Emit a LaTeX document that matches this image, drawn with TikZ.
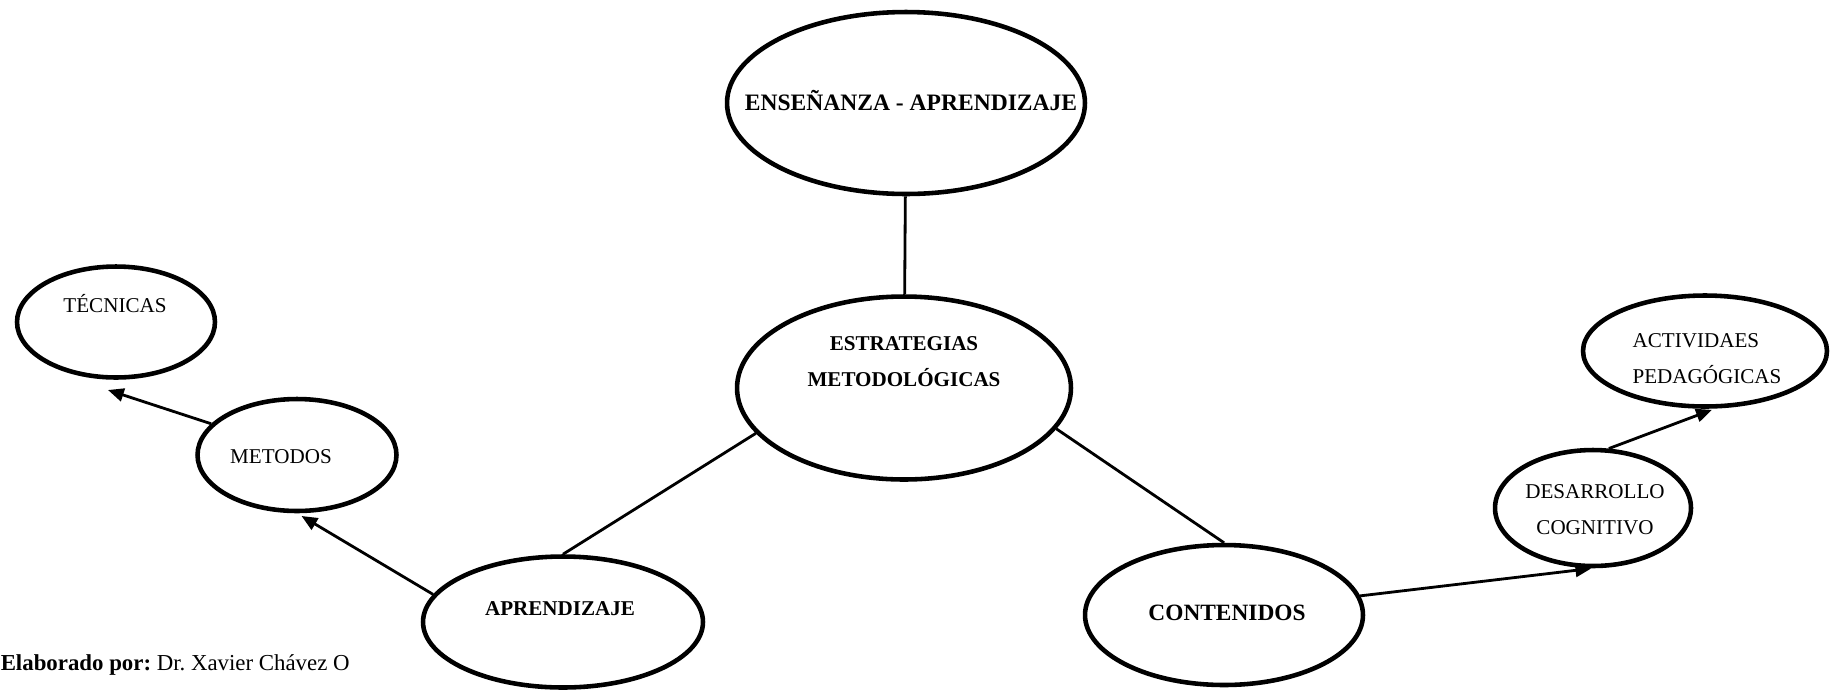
\documentclass[tikz,border=0pt]{standalone}
\usepackage{fontspec}
\setmainfont{Liberation Serif}
\usetikzlibrary{shapes.geometric,arrows.meta}
\frenchspacing

\begin{document}
\begin{tikzpicture}[x=0.02cm, y=-0.02cm,
    bubble/.style={draw, ellipse, line width=2.6pt, inner sep=0pt},
    link/.style={line width=1.6pt},
    arrow/.style={link, -{Triangle[length=9pt,width=7.5pt]}},
    txt/.style={font=\fontsize{12}{20.5}\selectfont, align=center, inner sep=0pt},
    btxt/.style={txt, font=\fontsize{12}{20.5}\selectfont\bfseries}]
    \useasboundingbox (0,0) rectangle (1836,691);

    \node[bubble, minimum width=7.16cm, minimum height=3.64cm] (ens) at (906,103) {};
    \node[btxt, font=\fontsize{13.4}{20.5}\selectfont\bfseries, anchor=base]
      (ens-txt) at (911,110) {ENSEÑANZA - APRENDIZAJE};
    \node[bubble, minimum width=6.68cm, minimum height=3.66cm] (est) at (904,388) {};
    \node[btxt] (est-txt) at (904,362) {ESTRATEGIAS\\METODOLÓGICAS};

    \node[bubble, minimum width=5.6cm, minimum height=2.62cm] (apr) at (563,622) {};
    \node[btxt, anchor=base] (apr-txt) at (560,615) {APRENDIZAJE};
    \node[bubble, minimum width=3.98cm, minimum height=2.24cm] (met) at (297,455) {};
    \node[txt, anchor=base] (met-txt) at (281,463) {METODOS};
    \node[bubble, minimum width=3.96cm, minimum height=2.22cm] (tec) at (116,322) {};
    \node[txt, anchor=base] (tec-txt) at (115,312) {TÉCNICAS};
    \coordinate (tec-in) at (108,390);

    \node[bubble, minimum width=5.56cm, minimum height=2.8cm] (con) at (1224,615) {};
    \node[btxt, font=\fontsize{13.3}{20.5}\selectfont\bfseries, anchor=base]
      (con-txt) at (1227,620) {CONTENIDOS};
    \node[bubble, minimum width=3.92cm, minimum height=2.32cm] (des) at (1593,508) {};
    \node[txt] (des-txt) at (1595,510) {DESARROLLO\\COGNITIVO};
    \node[bubble, minimum width=4.88cm, minimum height=2.22cm] (act) at (1705,351) {};
    \node[txt, align=left] (act-txt) at (1707,359) {ACTIVIDAES\\PEDAGÓGICAS};

    \draw[link] (ens) -- (est);
    \draw[link] (est.197) -- (apr.north);
    \draw[link] (est.345) -- (con.north);
    \draw[arrow, shorten >=3pt] (apr.168) -- (met.south);
    \draw[arrow] (met.160) -- (tec-in);
    \draw[arrow, shorten >=1pt] (con.8) -- (des.south);
    \draw[arrow, shorten >=2pt] (des.75) -- (act.280);

    \node[font=\fontsize{13}{15}\selectfont, anchor=base east, inner sep=0pt]
      (credit) at (350,670) {\textbf{Elaborado por:} Dr. Xavier Chávez O};
\end{tikzpicture}
\end{document}
